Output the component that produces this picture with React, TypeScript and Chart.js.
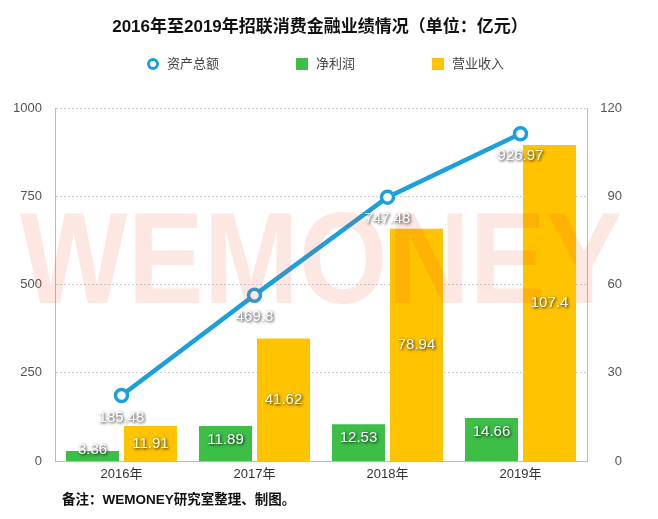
import React, { useEffect, useRef } from "react";
import { Chart, registerables } from "chart.js";

Chart.register(...registerables);

const categories = ["2016年", "2017年", "2018年", "2019年"];
const totalAssets = [185.48, 469.8, 747.48, 926.97];
const netProfit = [3.36, 11.89, 12.53, 14.66];
const revenue = [11.91, 41.62, 78.94, 107.4];
const leftTicks = [0, 250, 500, 750, 1000];
const rightTicks = [0, 30, 60, 90, 120];
const seriesNames = ["资产总额", "净利润", "营业收入"];

const TITLE = "2016年至2019年招联消费金融业绩情况（单位：亿元）";
const NOTE = "备注：WEMONEY研究室整理、制图。";
const WATERMARK = "WEMONEY";

const FONT = "'Liberation Sans', 'Noto Sans CJK SC', sans-serif";
const BLUE = "#1aa0dc";
const GREEN = "#3dbf47";
const YELLOW = "#ffc300";

function drawValue(ctx: CanvasRenderingContext2D, text: string, x: number, y: number) {
  ctx.save();
  ctx.font = `15px ${FONT}`;
  ctx.fillStyle = "#ffffff";
  ctx.textAlign = "center";
  ctx.textBaseline = "middle";
  ctx.shadowColor = "rgba(0,0,0,0.9)";
  ctx.shadowBlur = 3;
  ctx.shadowOffsetX = 1;
  ctx.shadowOffsetY = 1;
  ctx.fillText(text, x, y);
  ctx.restore();
}

const decorPlugin = {
  id: "decor",
  afterDatasetsDraw(chart: any) {
    const ctx: CanvasRenderingContext2D = chart.ctx;
    // watermark
    ctx.save();
    ctx.font = `bold 130px ${FONT}`;
    ctx.fillStyle = "rgba(240,70,30,0.13)";
    ctx.textAlign = "center";
    ctx.textBaseline = "alphabetic";
    ctx.fillText(WATERMARK, 321, 303, 602);
    ctx.restore();

    // value labels
    chart.data.datasets.forEach((ds: any, di: number) => {
      const meta = chart.getDatasetMeta(di);
      meta.data.forEach((el: any, i: number) => {
        const text = String(ds.data[i]);
        if (ds.type === "line") {
          drawValue(ctx, text, el.x, el.y + 22);
        } else if (di === 1) {
          drawValue(ctx, text, el.x, Math.min(el.y + 13.5, el.base - 11));
        } else {
          drawValue(ctx, text, el.x, (el.y + el.base) / 2);
        }
      });
    });
  },
  afterDraw(chart: any) {
    const ctx: CanvasRenderingContext2D = chart.ctx;
    // title
    ctx.save();
    ctx.font = `bold 17px ${FONT}`;
    ctx.fillStyle = "#111111";
    ctx.textAlign = "center";
    ctx.textBaseline = "middle";
    ctx.fillText(TITLE, 320, 27);
    ctx.restore();

    // legend
    ctx.save();
    ctx.font = `13px ${FONT}`;
    ctx.textBaseline = "middle";
    ctx.textAlign = "left";
    let x = 147;
    const y = 64;
    chart.data.datasets.forEach((ds: any) => {
      if (ds.type === "line") {
        ctx.beginPath();
        ctx.arc(x + 6, y, 4.5, 0, Math.PI * 2);
        ctx.fillStyle = "#ffffff";
        ctx.fill();
        ctx.lineWidth = 3;
        ctx.strokeStyle = ds.borderColor;
        ctx.stroke();
      } else {
        ctx.fillStyle = ds.backgroundColor;
        ctx.fillRect(x, y - 6, 12, 12);
      }
      ctx.fillStyle = "#444444";
      ctx.fillText(ds.label, x + 20, y);
      x += 20 + ctx.measureText(ds.label).width + 77;
    });
    ctx.restore();

    // note
    ctx.save();
    ctx.font = `bold 13.5px ${FONT}`;
    ctx.fillStyle = "#111111";
    ctx.textAlign = "left";
    ctx.textBaseline = "middle";
    ctx.fillText(NOTE, 62, 500);
    ctx.restore();
  },
};

export default function App() {
  const ref = useRef<HTMLCanvasElement | null>(null);

  useEffect(() => {
    if (!ref.current) return;
    const chart = new Chart(ref.current, {
      type: "bar",
      data: {
        labels: categories,
        datasets: [
          {
            type: "line",
            label: seriesNames[0],
            data: totalAssets,
            yAxisID: "y",
            borderColor: BLUE,
            borderWidth: 4.5,
            backgroundColor: BLUE,
            pointRadius: 6,
            pointBorderWidth: 3.5,
            pointBackgroundColor: "#ffffff",
            pointBorderColor: BLUE,
            tension: 0,
          } as any,
          {
            type: "bar",
            label: seriesNames[1],
            data: netProfit,
            yAxisID: "y1",
            backgroundColor: GREEN,
            categoryPercentage: 0.872,
            barPercentage: 0.914,
          },
          {
            type: "bar",
            label: seriesNames[2],
            data: revenue,
            yAxisID: "y1",
            backgroundColor: YELLOW,
            categoryPercentage: 0.872,
            barPercentage: 0.914,
          },
        ],
      },
      options: {
        animation: false,
        responsive: false,
        devicePixelRatio: 1,
        layout: { padding: { top: 108, bottom: 28, left: 0, right: 36 } },
        plugins: {
          legend: { display: false },
          title: { display: false },
          tooltip: { enabled: false },
        },
        scales: {
          x: {
            grid: { display: false, drawTicks: false },
            border: { display: true, color: "#bbbbbb", width: 1 },
            ticks: { color: "#333333", font: { size: 13, family: FONT }, padding: 6 },
            afterFit: (s: any) => {
              s.height = 30;
            },
          },
          y: {
            position: "left",
            min: 0,
            max: 1000,
            afterBuildTicks: (s: any) => {
              s.ticks = leftTicks.map((v) => ({ value: v }));
            },
            grid: { color: "#cfcfcf", drawTicks: false, lineWidth: 1 },
            border: { display: true, color: "#bbbbbb", width: 1, dash: [2, 2] },
            ticks: {
              color: "#555555",
              font: { size: 13, family: FONT },
              padding: 13,
              callback: (v: any) => String(v),
            },
            afterFit: (s: any) => {
              s.width = 55;
            },
          },
          y1: {
            position: "right",
            min: 0,
            max: 120,
            afterBuildTicks: (s: any) => {
              s.ticks = rightTicks.map((v) => ({ value: v }));
            },
            grid: { display: false, drawTicks: false },
            border: { display: true, color: "#bbbbbb", width: 1 },
            ticks: {
              color: "#555555",
              font: { size: 13, family: FONT },
              padding: 15,
              crossAlign: "far",
              callback: (v: any) => String(v),
            },
            afterFit: (s: any) => {
              s.width = 35;
            },
          },
        },
      },
      plugins: [decorPlugin],
    } as any);
    return () => chart.destroy();
  }, []);

  return (
    <div style={{ position: "absolute", left: 0, top: 0, width: 658, height: 519, background: "#ffffff" }}>
      <canvas ref={ref} width={658} height={519} style={{ width: 658, height: 519 }} />
    </div>
  );
}
